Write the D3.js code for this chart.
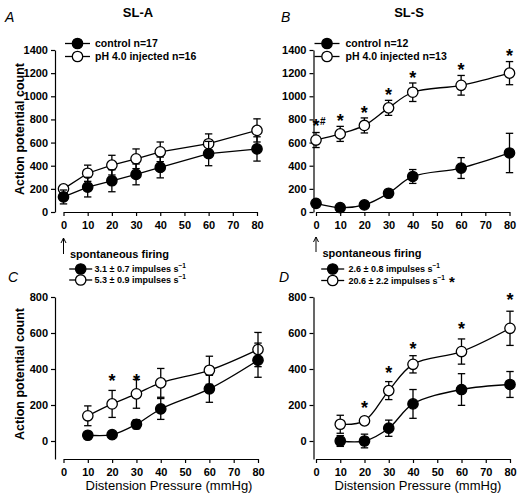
<!DOCTYPE html>
<html>
<head>
<meta charset="utf-8">
<script src="https://cdn.jsdelivr.net/npm/d3@7/dist/d3.min.js"></script>
<style>
  html, body { margin: 0; padding: 0; background: #fff; }
  svg { display: block; }
  text { font-family: "Liberation Sans", Arial, Helvetica, sans-serif; fill: #000; }
</style>
</head>
<body>
<svg id="chart" width="529" height="502"></svg>
<script>
// ---------------- DATA ----------------
const pressuresAB = [0, 10, 20, 30, 40, 60, 80];
const pressuresCD = [10, 20, 30, 40, 60, 80];
const xTickValues = [0, 10, 20, 30, 40, 50, 60, 70, 80];
const yTicksAB = [0, 200, 400, 600, 800, 1000, 1200, 1400];
const yTicksCD = [0, 200, 400, 600, 800];

// Panel A: SL-A, action potential count
const slaControlMean = [130, 215, 270, 325, 385, 505, 545];
const slaControlSem  = [60, 85, 95, 90, 90, 105, 105];
const slaPhMean      = [200, 335, 405, 460, 520, 590, 705];
const slaPhSem       = [25, 70, 85, 85, 85, 85, 100];

// Panel B: SL-S
const slsControlMean = [75, 38, 61, 162, 307, 380, 510];
const slsControlSem  = [15, 10, 12, 20, 60, 90, 170];
const slsPhMean      = [622, 675, 748, 900, 1035, 1095, 1200];
const slsPhSem       = [65, 65, 65, 65, 80, 85, 100];
const slsStarX       = [0, 10, 20, 30, 40, 60, 80];
const slsStarY       = [779, 822, 898, 1054, 1201, 1270, 1385];
const slsStarLabel   = ["*#", "*", "*", "*", "*", "*", "*"];

// Panel C: SL-A (spontaneous-firing subtracted)
const slaCControlMean = [32, 35, 93, 178, 290, 449];
const slaCControlSem  = [10, 10, 25, 58, 75, 95];
const slaCPhMean      = [140, 206, 262, 323, 393, 508];
const slaCPhSem       = [55, 75, 80, 80, 78, 95];
const slaCStarX       = [20, 30];
const slaCStarY       = [360, 360];

// Panel D: SL-S (spontaneous-firing subtracted)
const slsDControlMean = [0, 0, 71, 206, 286, 314];
const slsDControlSem  = [30, 38, 45, 80, 88, 72];
const slsDPhMean      = [93, 112, 280, 426, 497, 626];
const slsDPhSem       = [50, 20, 50, 48, 70, 95];
const slsDStarX       = [20, 30, 40, 60, 80];
const slsDStarY       = [208, 403, 537, 648, 806];

// Text
const panelTitles = ["SL-A", "SL-S"];
const panelLetters = ["A", "B", "C", "D"];
const legendAB_A = ["control n=17", "pH 4.0 injected n=16"];
const legendAB_B = ["control n=12", "pH 4.0 injected n=13"];
const spontTitle = "spontaneous firing";
const legendC = ["3.1 \u00b1 0.7 impulses s", "5.3 \u00b1 0.9 impulses s"];
const legendD = ["2.6 \u00b1 0.8 impulses s", "20.6 \u00b1 2.2 impulses s"];
const yTitle = "Action potential count";
const xTitle = "Distension Pressure (mmHg)";

// ---------------- DRAW ----------------
const svg = d3.select("#chart");
svg.append("rect").attr("width", 529).attr("height", 502).attr("fill", "#fff");

const STROKE = 1.3;
const R = 5.2;
const STAR_FS = 18;

function drawPanel(cfg) {
  const g = svg.append("g");
  const x = d3.scaleLinear().domain([0, 80]).range([cfg.xl, cfg.xr]);
  const y = d3.scaleLinear().domain(cfg.yDomain).range([cfg.yb, cfg.yt]);

  // Axes
  const ya = g.append("g").attr("transform", `translate(${cfg.yAxisX},0)`)
    .call(d3.axisLeft(y).tickValues(cfg.yTicks).tickFormat(d3.format("d"))
      .tickSize(4).tickPadding(3).tickSizeOuter(0));
  const xa = g.append("g").attr("transform", `translate(0,${cfg.yb})`)
    .call(d3.axisBottom(x).tickValues(xTickValues).tickFormat(d3.format("d"))
      .tickSize(4).tickPadding(5).tickSizeOuter(0));
  [ya, xa].forEach(a => {
    a.selectAll("path, line").attr("stroke", "#000").attr("stroke-width", 1.2);
    a.selectAll("text").attr("font-size", 11).attr("font-weight", "bold")
      .attr("font-family", '"Liberation Sans", Arial, sans-serif');
  });

  const curve = cfg.smooth ? d3.curveCatmullRom.alpha(0.5) : d3.curveLinear;
  const series = cfg.series;

  // lines
  series.forEach(s => {
    const pts = s.xs.map((v, i) => [v, s.mean[i]]);
    g.append("path")
      .attr("d", d3.line().x(d => x(d[0])).y(d => y(d[1])).curve(curve)(pts))
      .attr("fill", "none").attr("stroke", "#000").attr("stroke-width", STROKE);
  });
  // error bars + markers (pH first so control sits on top)
  series.forEach(s => {
    const eb = g.append("g");
    s.xs.forEach((v, i) => {
      const cx = x(v), top = y(s.mean[i] + s.sem[i]), bot = y(s.mean[i] - s.sem[i]);
      eb.append("line").attr("x1", cx).attr("x2", cx).attr("y1", top).attr("y2", bot)
        .attr("stroke", "#000").attr("stroke-width", STROKE);
      [top, bot].forEach(yy => eb.append("line")
        .attr("x1", cx - 3.7).attr("x2", cx + 3.7).attr("y1", yy).attr("y2", yy)
        .attr("stroke", "#000").attr("stroke-width", STROKE));
    });
    g.append("g").selectAll("circle").data(s.xs.map((v, i) => [v, s.mean[i]])).join("circle")
      .attr("cx", d => x(d[0])).attr("cy", d => y(d[1])).attr("r", R)
      .attr("fill", s.filled ? "#000" : "#fff").attr("stroke", "#000").attr("stroke-width", STROKE);
  });

  // stars
  if (cfg.starX) {
    cfg.starX.forEach((v, i) => {
      const lab = cfg.starLabel ? cfg.starLabel[i] : "*";
      const cy = y(cfg.starY[i]);
      g.append("text").attr("x", x(v)).attr("y", cy + STAR_FS * 0.585)
        .attr("text-anchor", "middle").attr("font-size", STAR_FS).attr("font-weight", "bold").text("*");
      if (lab === "*#") {
        g.append("text").attr("x", x(v) + 4).attr("y", cy + 3.6)
          .attr("font-size", 10).attr("font-weight", "bold").text("#");
      }
    });
  }

  // arrow at x = 0 (panels A, B)
  if (cfg.arrow) {
    const ax = x(0);
    g.append("path")
      .attr("d", `M${ax},${cfg.arrow[1]} L${ax},${cfg.arrow[0]} M${ax - 2.5},${cfg.arrow[0] + 5} L${ax},${cfg.arrow[0]} L${ax + 2.5},${cfg.arrow[0] + 5}`)
      .attr("fill", "none").attr("stroke", "#000").attr("stroke-width", 1);
  }
  return { x, y };
}

// Panel A
drawPanel({
  xl: 63.5, xr: 257, yAxisX: 55, yb: 212, yt: 50, yDomain: [0, 1400], yTicks: yTicksAB,
  smooth: false, arrow: [238, 254],
  series: [
    { xs: pressuresAB, mean: slaPhMean, sem: slaPhSem, filled: false },
    { xs: pressuresAB, mean: slaControlMean, sem: slaControlSem, filled: true }
  ]
});
// Panel B
drawPanel({
  xl: 316, xr: 509.5, yAxisX: 313.5, yb: 212, yt: 50, yDomain: [0, 1400], yTicks: yTicksAB,
  smooth: true, arrow: [237, 252],
  starX: slsStarX, starY: slsStarY, starLabel: slsStarLabel,
  series: [
    { xs: pressuresAB, mean: slsPhMean, sem: slsPhSem, filled: false },
    { xs: pressuresAB, mean: slsControlMean, sem: slsControlSem, filled: true }
  ]
});
// Panel C
drawPanel({
  xl: 63.5, xr: 258, yAxisX: 55, yb: 459, yt: 297, yDomain: [-100, 800], yTicks: yTicksCD,
  smooth: true, starX: slaCStarX, starY: slaCStarY,
  series: [
    { xs: pressuresCD, mean: slaCPhMean, sem: slaCPhSem, filled: false },
    { xs: pressuresCD, mean: slaCControlMean, sem: slaCControlSem, filled: true }
  ]
});
// Panel D
drawPanel({
  xl: 316, xr: 510, yAxisX: 313.5, yb: 459, yt: 297, yDomain: [-100, 800], yTicks: yTicksCD,
  smooth: true, starX: slsDStarX, starY: slsDStarY,
  series: [
    { xs: pressuresCD, mean: slsDPhMean, sem: slsDPhSem, filled: false },
    { xs: pressuresCD, mean: slsDControlMean, sem: slsDControlSem, filled: true }
  ]
});

// Titles
svg.append("text").attr("x", 138).attr("y", 17).attr("text-anchor", "middle")
  .attr("font-size", 13).attr("font-weight", "bold").text(panelTitles[0]);
svg.append("text").attr("x", 409).attr("y", 17).attr("text-anchor", "middle")
  .attr("font-size", 13).attr("font-weight", "bold").text(panelTitles[1]);

// Panel letters
[[5, 22], [281, 22], [8, 282], [279, 282]].forEach((p, i) => {
  svg.append("text").attr("x", p[0]).attr("y", p[1]).attr("font-size", 14)
    .attr("font-style", "italic").text(panelLetters[i]);
});

// Y titles
[129, 374].forEach(cy => {
  svg.append("text").attr("transform", `translate(23.5,${cy}) rotate(-90)`)
    .attr("text-anchor", "middle").attr("font-size", 12.5).attr("font-weight", "bold").text(yTitle);
});
// X titles
[[169, 490], [418, 490]].forEach(p => {
  svg.append("text").attr("x", p[0]).attr("y", p[1]).attr("text-anchor", "middle")
    .attr("font-size", 13).text(xTitle);
});

// Legends for A, B
function legendRow(cx, cy, filled, label, tx, fs, half) {
  svg.append("line").attr("x1", cx - half).attr("x2", cx + half).attr("y1", cy).attr("y2", cy)
    .attr("stroke", "#000").attr("stroke-width", STROKE);
  svg.append("circle").attr("cx", cx).attr("cy", cy).attr("r", R)
    .attr("fill", filled ? "#000" : "#fff").attr("stroke", "#000").attr("stroke-width", STROKE);
  return svg.append("text").attr("x", tx).attr("y", cy + fs * 0.36)
    .attr("font-size", fs).attr("font-weight", "bold").text(label);
}
legendRow(77.5, 43.5, true, legendAB_A[0], 95, 10.5, 12.5);
legendRow(77.5, 56.5, false, legendAB_A[1], 95, 10.5, 12.5);
legendRow(327, 43.5, true, legendAB_B[0], 345.5, 10.5, 12.5);
legendRow(327, 56.5, false, legendAB_B[1], 345.5, 10.5, 12.5);

// Legends for C, D
svg.append("text").attr("x", 70).attr("y", 258).attr("font-size", 11).attr("font-weight", "bold").text(spontTitle);
svg.append("text").attr("x", 322.5).attr("y", 256.5).attr("font-size", 11).attr("font-weight", "bold").text(spontTitle);
function sup(t) {
  t.append("tspan").attr("font-size", 6.5).attr("dy", -4).text("\u22121");
}
[[80.7, 269, true, legendC[0]], [80.7, 280, false, legendC[1]]].forEach(r => {
  const t = legendRow(r[0], r[1], r[2], r[3], 94.5, 9, 11.5); sup(t);
});
[[332.7, 269, true, legendD[0]], [332.7, 280.5, false, legendD[1]]].forEach((r, i) => {
  const t = legendRow(r[0], r[1], r[2], r[3], 348.5, 9, 11.5); sup(t);
  if (i === 1) t.append("tspan").attr("font-size", 15).attr("dy", 7).text(" *");
});
</script>
</body>
</html>
